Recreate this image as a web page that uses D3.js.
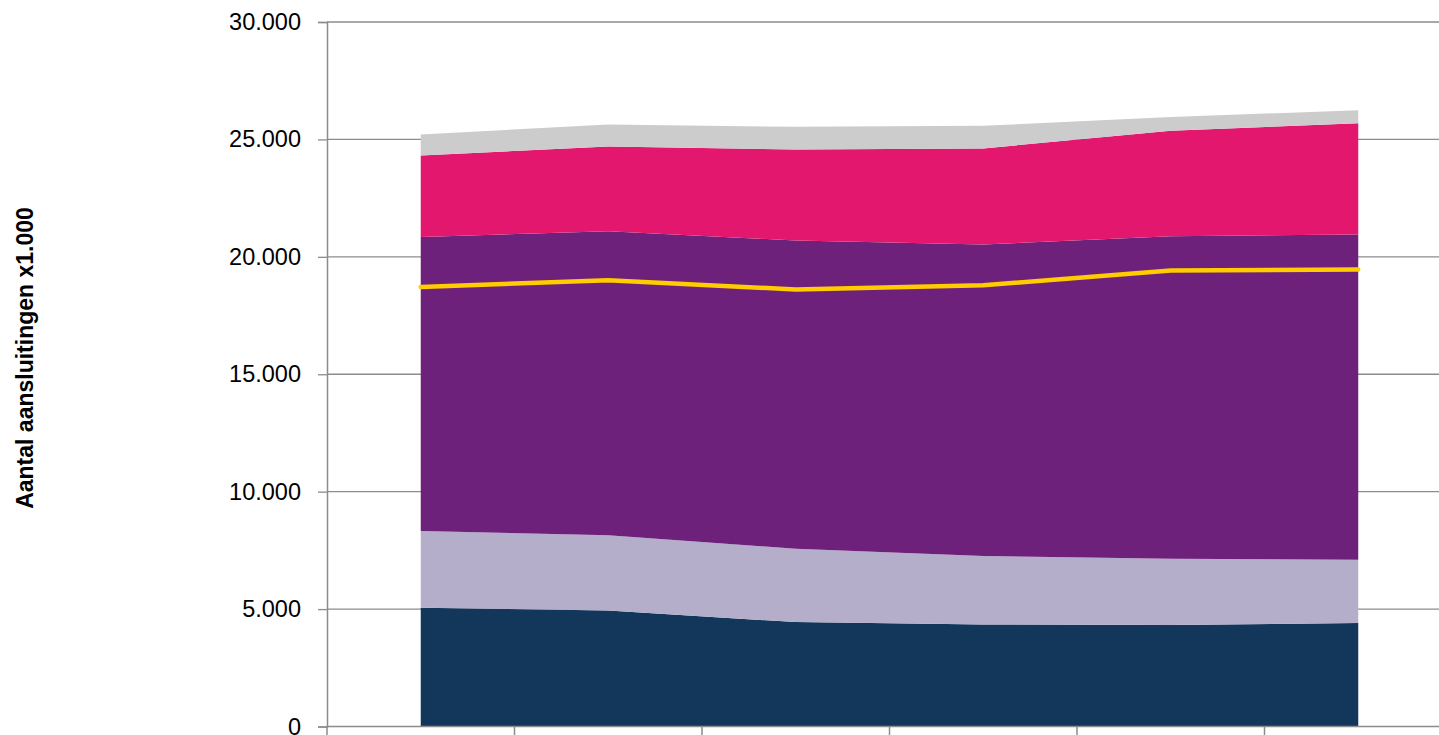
<!DOCTYPE html>
<html>
<head>
<meta charset="utf-8">
<script src="https://cdn.jsdelivr.net/npm/d3@7"></script>
<style>
    html, body { margin: 0; padding: 0; background: #fff; }
    svg { display: block; }
    .tick text { font-family: "Liberation Sans", Arial, sans-serif; }
</style>
</head>
<body>
<svg id="svg-main" width="1439" height="735"></svg>
<script>
// categories (x labels fall below the visible area)
var categories = ["2006", "2007", "2008", "2009", "2010", "2011"];

// stacked series, bottom to top (x1.000 aansluitingen)
var navy     = [5058, 4943, 4445, 4346, 4318, 4403];
var lavender = [3264, 3196, 3126, 2911, 2827, 2699];
var purple   = [12527, 12954, 13123, 13266, 13735, 13849];
var pink     = [3469, 3607, 3878, 4092, 4488, 4742];
var grey     = [894, 938, 965, 965, 582, 554];

// separate line series
var yellowLine = [18719, 19004, 18608, 18791, 19417, 19460];

var yTicks = [0, 5000, 10000, 15000, 20000, 25000, 30000];

var seriesKeys = ["navy", "lavender", "purple", "pink", "grey"];
var seriesColors = {
    navy: "#12375a",
    lavender: "#b4aecb",
    purple: "#6e217b",
    pink: "#e4176e",
    grey: "#cccccc"
};

var rows = categories.map(function (c, i) {
    return {
        cat: c,
        navy: navy[i],
        lavender: lavender[i],
        purple: purple[i],
        pink: pink[i],
        grey: grey[i],
        line: yellowLine[i]
    };
});

var svg = d3.select("svg");
var plotLeft = 327, plotTop = 22, plotBottom = 726.5;
var bandRight = plotLeft + 187.5 * categories.length;

var x = d3.scaleBand()
    .domain(categories)
    .range([plotLeft, bandRight]);

var cx = function (c) { return x(c) + x.bandwidth() / 2; };

var y = d3.scaleLinear()
    .domain([0, 30000])
    .range([plotBottom, plotTop]);

var nl = d3.formatLocale({ decimal: ",", thousands: ".", grouping: [3], currency: ["", ""] });
var fmt = nl.format(",");

// horizontal gridlines
svg.append("g")
    .selectAll("line")
    .data(yTicks.slice(1))
    .enter().append("line")
    .attr("x1", plotLeft)
    .attr("x2", 1439)
    .attr("y1", function (d) { return y(d); })
    .attr("y2", function (d) { return y(d); })
    .attr("stroke", "#8c8c8c")
    .attr("stroke-width", 1.3);

// stacked areas
var stack = d3.stack().keys(seriesKeys);
var layers = stack(rows);

var area = d3.area()
    .x(function (d) { return cx(d.data.cat); })
    .y0(function (d) { return y(d[0]); })
    .y1(function (d) { return y(d[1]); });

svg.append("g")
    .selectAll("path")
    .data(layers)
    .enter().append("path")
    .attr("fill", function (d) { return seriesColors[d.key]; })
    .attr("d", area);

// yellow line
var line = d3.line()
    .x(function (d) { return cx(d.cat); })
    .y(function (d) { return y(d.line); });

svg.append("path")
    .datum(rows)
    .attr("fill", "none")
    .attr("stroke", "#ffcc00")
    .attr("stroke-width", 4.5)
    .attr("stroke-linejoin", "round")
    .attr("stroke-linecap", "round")
    .attr("d", line);

// y axis
var yAxis = svg.append("g")
    .attr("transform", "translate(" + plotLeft + ",0)")
    .call(d3.axisLeft(y).tickValues(yTicks).tickFormat(fmt).tickSizeOuter(0).tickSize(9).tickPadding(17));

yAxis.select(".domain").attr("stroke", "#8c8c8c").attr("stroke-width", 1.5);
yAxis.selectAll(".tick line").attr("stroke", "#8c8c8c").attr("stroke-width", 1.3);
yAxis.selectAll(".tick text")
    .attr("fill", "#000")
    .style("font-size", "23.5px");

// x axis
var xAxis = svg.append("g")
    .attr("transform", "translate(0," + plotBottom + ")");

xAxis.append("line")
    .attr("x1", plotLeft)
    .attr("x2", 1439)
    .attr("stroke", "#8c8c8c")
    .attr("stroke-width", 1.5);

var boundaries = categories.map(function (c) { return x(c); }).concat([bandRight]);

xAxis.selectAll(".xtick")
    .data(boundaries)
    .enter().append("line")
    .attr("class", "xtick")
    .attr("x1", function (d) { return d; })
    .attr("x2", function (d) { return d; })
    .attr("y1", 0)
    .attr("y2", 9)
    .attr("stroke", "#8c8c8c")
    .attr("stroke-width", 1.5);

// y axis title
svg.append("text")
    .attr("transform", "translate(33,358) rotate(-90)")
    .attr("text-anchor", "middle")
    .style("font-family", "'Liberation Sans', Arial, sans-serif")
    .style("font-weight", "bold")
    .style("font-size", "23px")
    .attr("fill", "#000")
    .text("Aantal aansluitingen x1.000");
</script>
</body>
</html>
